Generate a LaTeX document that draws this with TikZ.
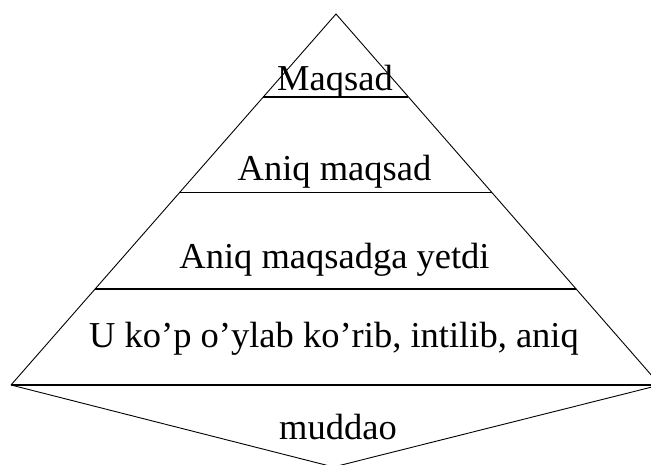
\documentclass[tikz,border=0pt]{standalone}
\usepackage{fontspec}
\setmainfont{Liberation Serif}
\usetikzlibrary{calc}
\begin{document}
\begin{tikzpicture}[x=1pt,y=-1pt,
  edge/.style={line width=0.9pt},
  tier/.style={line width=1.2pt},
  baseline/.style={line width=2pt},
  lbl/.style={anchor=base,inner sep=0pt,font=\fontsize{36.5}{42}\selectfont}]
\useasboundingbox (0,0) rectangle (651,465);
\clip (0,0) rectangle (651,465);
\coordinate (apex) at (336,14);
\coordinate (bl) at (11,385);
\coordinate (br) at (660,385);
\coordinate (bot) at (333.5,467);
\draw[edge] (bl) -- (apex) -- (br);
\draw[edge] (bl) -- (bot) -- (br);
\draw[baseline] (bl) -- (br);
\draw[tier] ($(apex)!0.2237!(bl)$) -- ($(apex)!0.2237!(br)$);
\draw[tier] ($(apex)!0.4817!(bl)$) -- ($(apex)!0.4817!(br)$);
\draw[tier] ($(apex)!0.7412!(bl)$) -- ($(apex)!0.7412!(br)$);
\node[lbl] (l1) at (335,91) {Maqsad};
\node[lbl] (l2) at (334.5,181) {Aniq maqsad};
\node[lbl] (l3) at (334.5,269) {Aniq maqsadga yetdi};
\node[lbl] (l4) at (334,347) {U ko’p o’ylab ko’rib, intilib, aniq};
\node[lbl] (l5) at (338,439) {muddao};
\end{tikzpicture}
\end{document}
